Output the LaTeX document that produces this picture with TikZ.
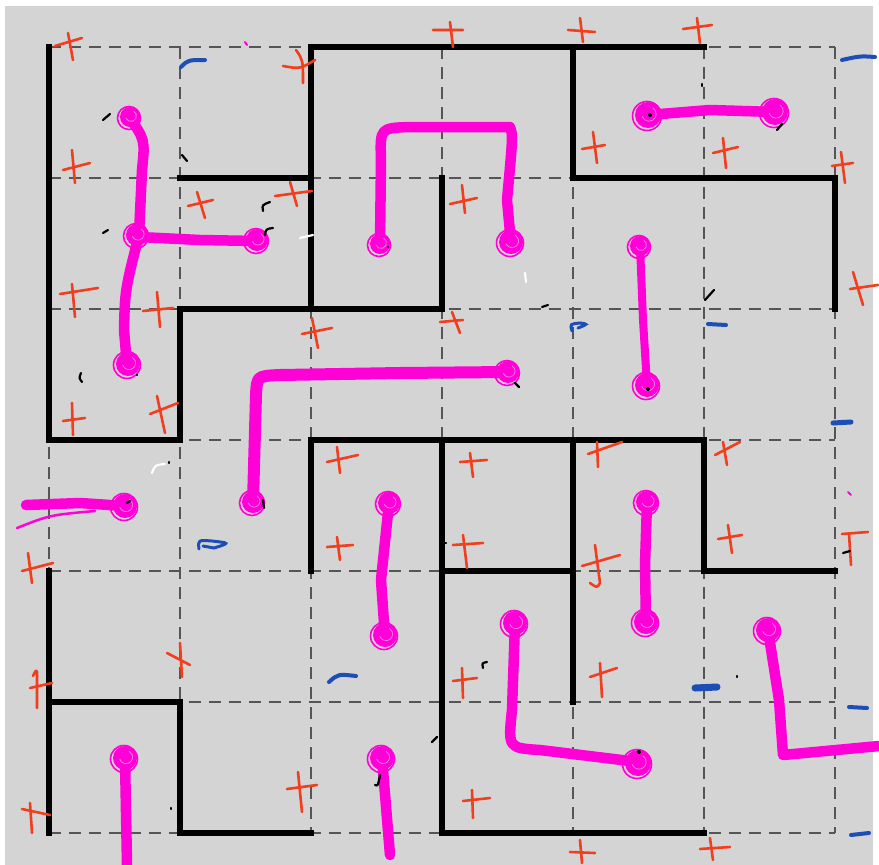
\documentclass[tikz,border=0pt]{standalone}
\usetikzlibrary{calc}
\definecolor{bgc}{RGB}{212,212,212}
\definecolor{gridc}{RGB}{85,85,85}
\definecolor{pkc}{RGB}{255,0,214}
\definecolor{pkl}{RGB}{255,120,232}
\definecolor{redc}{RGB}{240,62,30}
\definecolor{bluec}{RGB}{28,78,182}
\tikzset{
  gridline/.style={draw=gridc, line width=2pt, dash pattern=on 12pt off 8pt},
  wall/.style={draw=black, line width=5.5pt, line cap=rect},
  pk/.style={draw=pkc, line width=10.5pt, line cap=round, line join=round},
  pkthin/.style={draw=pkc, line width=2.5pt, line cap=round},
  rx/.style={draw=redc, line width=2.6pt, line cap=round},
  bx/.style={draw=bluec, line width=4pt, line cap=round},
  speck/.style={draw=black, line width=2.2pt, line cap=round},
  wspeck/.style={draw=white, line width=2.2pt, line cap=round}
}
\newcommand{\pblob}[3]{%
  \fill[pkc] (#1,#2) circle[radius=#3pt];
  \draw[pkl, line width=0.8pt] ($(#1,#2)+(1,-1)$) ++(200:0.55*#3pt) arc[start angle=200, end angle=420, radius=0.55*#3pt];
  \draw[pkc, line width=1.6pt] (#1-1,#2+1) circle[radius=#3pt+1.5pt];}
\begin{document}
\begin{tikzpicture}[x=1pt,y=-1pt]
\useasboundingbox (0,0) rectangle (879,865);
\fill[white] (0,0) rectangle (879,865);
\fill[bgc] (5,6) rectangle (873,865);
% dashed grid
\foreach \x in {49,180,311,442,573,704,835} \draw[gridline] (\x,47) -- (\x,833);
\foreach \y in {47,178,309,440,571,702,833} \draw[gridline] (49,\y) -- (835,\y);
% walls
\draw[wall] (49,47) -- (49,440) -- (180,440) -- (180,309) -- (442,309) -- (442,178);
\draw[wall] (180,178) -- (311,178);
\draw[wall] (311,309) -- (311,47) -- (704,47);
\draw[wall] (573,47) -- (573,178) -- (835,178) -- (835,309);
\draw[wall] (311,571) -- (311,440) -- (704,440) -- (704,571) -- (835,571);
\draw[wall] (442,440) -- (442,833) -- (704,833);
\draw[wall] (442,571) -- (573,571);
\draw[wall] (573,440) -- (573,702);
\draw[wall] (49,571) -- (49,833);
\draw[wall] (49,702) -- (180,702) -- (180,833) -- (311,833);
% magenta strokes
\draw[pk] (130,118) .. controls (145,140) .. (142,170) -- (139,235);
\draw[pk] (139,235) .. controls (125,290) .. (124,330) -- (127,365);
\draw[pk] (139,237) -- (200,240) -- (256,241);
\draw[pk] (380,243) -- (381,160) .. controls (380,128) .. (410,127) -- (510,127) .. controls (513,135) .. (507,200) -- (511,243);
\draw[pk] (648,115) -- (710,110) -- (775,112);
\draw[pk, line width=8pt] (640,245) -- (643,320) -- (647,385);
\draw[pk, line width=12pt] (508,372) -- (400,373) -- (280,375) .. controls (257,376) .. (256,395) -- (253,502);
\draw[pk] (26,505) -- (80,503) -- (125,506);
\draw[pkthin] (17,528) .. controls (50,515) .. (95,511);
\draw[pk] (389,503) -- (381,580) -- (385,637);
\draw[pk] (647,502) -- (645,565) -- (646,625);
\draw[pk] (515,623) -- (512,710) .. controls (508,748) .. (540,750) -- (638,762);
\draw[pk] (768,630) -- (779,700) -- (783,755) -- (879,746);
\draw[pk] (125,758) -- (127,865);
\draw[pk] (382,758) -- (390,855);
% blobs
\pblob{130}{117}{10}
\pblob{128}{364}{12}
\pblob{137}{235}{11}
\pblob{257}{240}{11}
\pblob{380}{244}{10}
\pblob{511}{242}{12}
\pblob{648}{115}{13}
\pblob{775}{112}{13}
\pblob{640}{246}{10}
\pblob{647}{385}{12}
\pblob{508}{372}{11}
\pblob{253}{502}{11}
\pblob{125}{506}{12}
\pblob{389}{503}{11}
\pblob{385}{635}{12}
\pblob{647}{502}{11}
\pblob{646}{622}{12}
\pblob{515}{623}{12}
\pblob{638}{763}{13}
\pblob{768}{630}{12}
\pblob{125}{758}{12}
\pblob{382}{758}{12}
% red crosses
\draw[rx] (55,46) -- (82,38) (68,33) -- (73,60);
\draw[rx] (63,170) -- (90,163) (72,150) -- (75,183);
\draw[rx] (283,66) .. controls (300,69) .. (315,60) (296,50) .. controls (303,60) .. (303,83);
\draw[rx] (188,206) -- (213,200) (197,192) -- (205,218);
\draw[rx] (275,196) -- (312,191) (290,182) -- (297,206);
\draw[rx] (60,294) -- (98,288) (72,284) -- (75,317);
\draw[rx] (143,311) -- (173,308) (157,292) -- (160,327);
\draw[rx] (302,334) -- (332,328) (312,318) -- (318,348);
\draw[rx] (63,421) -- (85,418) (72,403) -- (73,435);
\draw[rx] (150,414) -- (178,403) (157,396) -- (165,433);
\draw[rx] (433,30) -- (463,30) (450,22) -- (453,47);
\draw[rx] (568,30) -- (595,32) (580,18) -- (583,42);
\draw[rx] (683,29) -- (712,25) (697,18) -- (700,43);
\draw[rx] (582,149) -- (605,145) (593,132) -- (597,163);
\draw[rx] (713,153) -- (738,147) (723,138) -- (726,168);
\draw[rx] (832,166) -- (853,163) (841,152) -- (845,183);
\draw[rx] (450,204) -- (477,198) (462,185) -- (465,213);
\draw[rx] (850,289) -- (878,285) (853,272) -- (863,305);
\draw[rx] (440,322) -- (463,320) (452,312) -- (460,333);
\draw[rx] (327,462) -- (358,455) (337,447) -- (340,473);
\draw[rx] (327,547) -- (353,545) (337,537) -- (340,560);
\draw[rx] (22,571) -- (53,563) (28,553) -- (32,583);
\draw[rx] (167,653) -- (190,665) (180,643) -- (182,677);
\draw[rx] (30,688) -- (52,683) (33,676) .. controls (36,670) .. (37,672) -- (37,708);
\draw[rx] (287,789) -- (317,785) (298,772) -- (302,812);
\draw[rx] (22,809) -- (50,815) (30,803) -- (32,833);
\draw[rx] (460,462) -- (487,460) (470,453) -- (473,477);
\draw[rx] (588,454) -- (622,442) (597,442) -- (598,467);
\draw[rx] (715,455) -- (740,442) (723,442) -- (727,465);
\draw[rx] (453,545) -- (483,543) (463,535) -- (467,568);
\draw[rx] (582,566) -- (620,555) (595,545) -- (600,583) .. controls (597,588) .. (590,583);
\draw[rx] (718,539) -- (742,535) (728,525) -- (732,553);
\draw[rx] (842,534) -- (868,532) (849,534) -- (851,565);
\draw[rx] (453,681) -- (477,678) (462,668) -- (463,698);
\draw[rx] (590,677) -- (617,668) (600,663) -- (602,697);
\draw[rx] (463,801) -- (490,798) (472,790) -- (473,818);
\draw[rx] (570,852) -- (595,853) (580,840) -- (582,863);
\draw[rx] (700,849) -- (730,847) (710,838) -- (713,860);
% blue marks
\draw[bx] (181,67) .. controls (188,60) .. (205,60);
\draw[bx] (842,60) .. controls (860,56) .. (875,57);
\draw[bx, line width=3pt] (572,331) .. controls (570,324) .. (580,323) .. controls (588,324) .. (578,328);
\draw[bx] (708,324) -- (726,325);
\draw[bx, line width=5pt] (833,423) -- (851,422);
\draw[bx, line width=3pt] (199,549) .. controls (198,540) .. (212,541) .. controls (230,543) .. (214,548) -- (203,546);
\draw[bx] (329,682) .. controls (338,674) .. (356,676);
\draw[bx, line width=7pt] (695,688) -- (717,687);
\draw[bx] (849,707) -- (867,708);
\draw[bx] (851,835) -- (869,833);
% magenta ticks
\draw[pkc, line width=2pt, line cap=round] (245,42) -- (247,45);
\draw[pkc, line width=2pt, line cap=round] (848,492) -- (851,495);
% black specks
\draw[speck] (103,120) -- (110,114);
\draw[speck] (182,155) -- (187,161);
\draw[speck] (263,211) .. controls (262,205) .. (270,202);
\draw[speck] (265,235) .. controls (266,229) .. (273,228);
\draw[speck] (103,233) -- (108,230);
\draw[speck] (81,373) .. controls (79,378) .. (82,382);
\draw[speck] (702,84) -- (702,86);
\draw[speck] (777,130) -- (782,124);
\draw[speck] (542,307) -- (548,305);
\draw[speck] (705,300) -- (714,290);
\draw[speck] (515,383) -- (519,387);
\draw[speck] (127,503) -- (130,501);
\draw[speck] (263,500) -- (264,508);
\draw[speck] (432,742) -- (437,737);
\draw[speck] (375,785) .. controls (378,786) .. (380,775);
\draw[speck] (171,808) -- (171,809);
\draw[speck] (169,462) -- (169,463);
\draw[speck] (843,553) -- (850,551);
\draw[speck] (483,668) .. controls (482,663) .. (487,662);
\draw[speck] (737,676) -- (737,677);
\draw[speck] (443,543) -- (446,543);
\fill (650,115) circle[radius=2pt];
\fill (648,389) circle[radius=2pt];
\fill (639,752) circle[radius=2pt];
\fill (388,247) circle[radius=1.2pt];
\fill (137,375) circle[radius=1.2pt];
% white specks
\draw[wspeck] (300,238) -- (313,235);
\draw[wspeck] (525,273) -- (526,282);
\draw[wspeck] (152,473) .. controls (155,465) .. (165,464);
\end{tikzpicture}
\end{document}
